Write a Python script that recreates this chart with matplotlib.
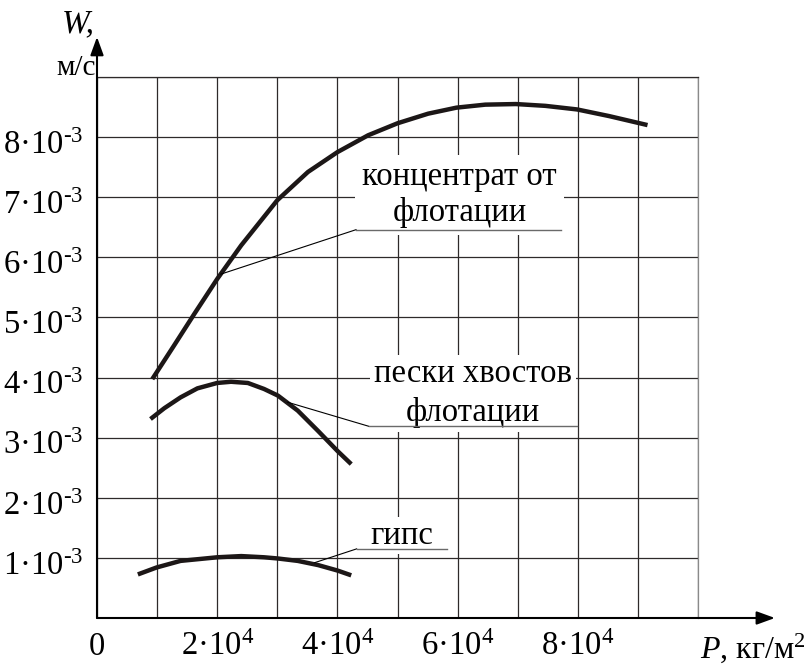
import numpy as np
import matplotlib
matplotlib.use('Agg')
import matplotlib.pyplot as plt
from matplotlib.transforms import ScaledTranslation

plt.rcParams['font.family'] = ['Liberation Serif', 'DejaVu Serif']
plt.rcParams['mathtext.fontset'] = 'custom'
plt.rcParams['mathtext.rm'] = 'Liberation Serif'
plt.rcParams['mathtext.it'] = 'Liberation Serif:italic'

# P, кг/м2 and W, м/с
p_conc = [0.92e4, 1.28e4, 1.62e4, 2.0e4, 2.4e4, 3.0e4, 3.51e4, 4.0e4, 4.51e4,
          5.0e4, 5.51e4, 5.98e4, 6.46e4, 6.97e4, 7.46e4, 7.99e4, 8.52e4, 9.16e4]
w_conc = [3.975e-3, 4.53e-3, 5.06e-3, 5.64e-3, 6.20e-3, 6.95e-3, 7.42e-3, 7.75e-3, 8.03e-3,
          8.23e-3, 8.39e-3, 8.49e-3, 8.54e-3, 8.55e-3, 8.52e-3, 8.46e-3, 8.35e-3, 8.20e-3]

p_sand = [0.89e4, 1.12e4, 1.39e4, 1.67e4, 2.0e4, 2.23e4, 2.51e4, 2.78e4, 3.01e4,
          3.34e4, 3.68e4, 4.0e4, 4.23e4]
w_sand = [3.31e-3, 3.49e-3, 3.67e-3, 3.82e-3, 3.91e-3, 3.93e-3, 3.91e-3, 3.81e-3, 3.70e-3,
          3.45e-3, 3.11e-3, 2.78e-3, 2.56e-3]

p_gyps = [0.68e4, 0.99e4, 1.39e4, 2.0e4, 2.40e4, 2.78e4, 3.01e4, 3.34e4, 3.68e4, 4.0e4, 4.23e4]
w_gyps = [0.725e-3, 0.84e-3, 0.95e-3, 1.01e-3, 1.03e-3, 1.01e-3, 0.99e-3, 0.95e-3,
          0.88e-3, 0.79e-3, 0.71e-3]

x_ticks = np.arange(0, 11) * 1e4
x_labels = ['0', '', '2·10$^4$', '', '4·10$^4$', '', '6·10$^4$', '', '8·10$^4$', '', '']
y_ticks = np.arange(0, 10) * 1e-3
y_labels = [''] + ['%d·10$^{\u2010 3}$' % i for i in range(1, 9)] + ['']

fig = plt.figure(figsize=(8.12, 6.68), dpi=100)
ax = fig.add_axes([97 / 812, 50 / 668, 601 / 812, 541 / 668])
ax.set_xlim(0, 1e5)
ax.set_ylim(0, 9e-3)

ax.set_xticks(x_ticks)
ax.set_xticklabels(x_labels, fontsize=23.5)
ax.set_yticks(y_ticks)
ax.set_yticklabels(y_labels, fontsize=23.5)
ax.tick_params(axis='x', length=0, pad=10)
ax.tick_params(axis='y', length=0, pad=10)
shift = ScaledTranslation(0, -5 / 100, fig.dpi_scale_trans)
for lab in ax.get_yticklabels():
    lab.set_transform(lab.get_transform() + shift)
ax.grid(True, color='#2e2a2a', lw=0.9)
ax.set_axisbelow(True)

for s in ['left', 'bottom']:
    ax.spines[s].set_visible(False)
ax.spines['top'].set_color('#2e2a2a')
ax.spines['top'].set_linewidth(0.9)
ax.spines['right'].set_color('#8a8a8a')
ax.spines['right'].set_linewidth(0.9)

# axes with arrows
arr = dict(arrowstyle='-|>,head_length=0.55,head_width=0.2', lw=1.5, color='black',
           mutation_scale=20, shrinkA=0, shrinkB=0)
ax.annotate('', xy=(0, 1.074), xytext=(0, 0), xycoords='axes fraction',
            arrowprops=arr, annotation_clip=False)
ax.annotate('', xy=(1.128, 0), xytext=(0, 0), xycoords='axes fraction',
            arrowprops=arr, annotation_clip=False)

# curves
ck = dict(color='#1c1717', lw=3.2, solid_capstyle='butt', solid_joinstyle='round', zorder=4)
ax.plot(p_conc, w_conc, **ck)
ax.plot(p_sand, w_sand, **ck)
ax.plot(p_gyps, w_gyps, **ck)

# labels with leader lines
box = dict(fc='white', ec='none', pad=5)
ax.text(6.03e4, 7.04e-3, 'концентрат от\nфлотации', fontsize=23.5, ha='center', va='center',
        linespacing=1.2, bbox=box, zorder=3)
ax.plot([2.06e4, 4.31e4], [5.72e-3, 6.46e-3], color='black', lw=0.8, zorder=5)
ax.plot([4.31e4, 7.72e4], [6.46e-3, 6.46e-3], color='#6a6a6a', lw=1, zorder=5)

ax.text(6.26e4, 3.74e-3, 'пески хвостов\nфлотации', fontsize=23.5, ha='center', va='center',
        linespacing=1.3, bbox=dict(fc='white', ec='none', pad=3), zorder=3)
ax.plot([3.17e4, 4.52e4], [3.59e-3, 3.19e-3], color='black', lw=0.8, zorder=5)
ax.plot([4.52e4, 7.98e4], [3.19e-3, 3.19e-3], color='#6a6a6a', lw=1, zorder=5)

ax.text(5.07e4, 1.37e-3, 'гипс', fontsize=23.5, ha='center', va='center',
        bbox=dict(fc='white', ec='none', pad=2), zorder=3)
ax.plot([3.62e4, 4.32e4], [0.92e-3, 1.15e-3], color='black', lw=0.8, zorder=5)
ax.plot([4.32e4, 5.83e4], [1.15e-3, 1.15e-3], color='#6a6a6a', lw=1, zorder=5)

# axis titles
fig.text(78 / 812, 1 - 24 / 668, 'W,', fontsize=24, style='italic', ha='center', va='center')
fig.text(76 / 812, 1 - 68 / 668, 'м/с', fontsize=21, ha='center', va='center')
fig.text(806 / 812, 1 - 648 / 668, '$P$, кг/м$^2$', fontsize=23, ha='right', va='center')

fig.savefig('out.png', dpi=100)
